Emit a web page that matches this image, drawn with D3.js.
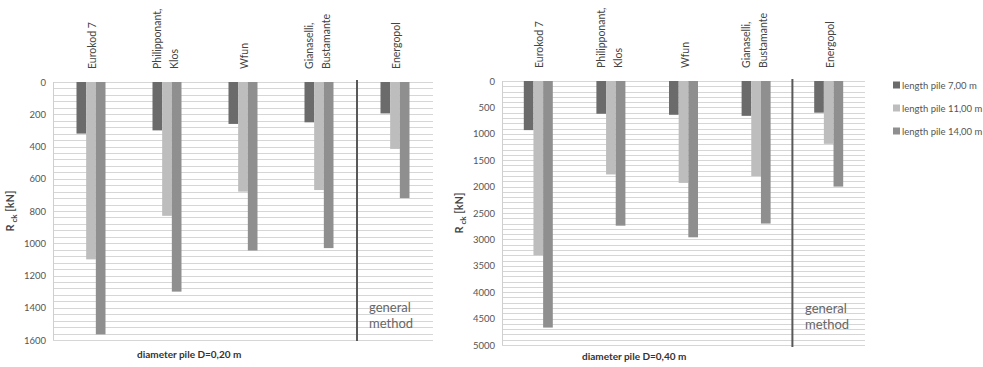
<!DOCTYPE html>
<html><head><meta charset="utf-8">
<script src="https://cdn.jsdelivr.net/npm/d3@7"></script>
<style>body{margin:0;background:#fff;} svg{display:block;font-family:Lato,"Open Sans",sans-serif;}</style>
</head><body>
<svg id="c" width="983" height="367"></svg>
<script>
const categories = [["Eurokod 7"],["Philipponant,","Klos"],["Wfun"],["Gianaselli,","Bustamante"],["Energopol"]];
const seriesNames = ["length pile 7,00 m","length pile 11,00 m","length pile 14,00 m"];
const colors = ["#6b6b6b","#bdbdbd","#8f8f8f"];
// D = 0,20 m
const d20_7 = [320, 300, 260, 250, 195];
const d20_11 = [1100, 830, 680, 670, 415];
const d20_14 = [1565, 1300, 1045, 1030, 720];
const ticks20 = [0,200,400,600,800,1000,1200,1400,1600];
// D = 0,40 m
const d40_7 = [930, 620, 640, 660, 600];
const d40_11 = [3300, 1770, 1930, 1800, 1190];
const d40_14 = [4670, 2740, 2960, 2700, 2000];
const ticks40 = [0,500,1000,1500,2000,2500,3000,3500,4000,4500,5000];

const svg = d3.select("#c");

function chart(cfg){
  const {x0,x1,y0,y1,max,ticks,minor,series,caption,capX,capY,titleX,divBottom,genX,genY} = cfg;
  const g = svg.append("g");
  const y = d3.scaleLinear().domain([0,max]).range([y0,y1]);
  const x = d3.scaleBand().domain(d3.range(categories.length)).range([x0,x1]).paddingInner(0).paddingOuter(0);
  const groupW = 29;
  const xs = d3.scaleBand().domain([0,1,2]).range([0,groupW]);
  g.append("g").selectAll("line").data(d3.range(0,max+1,minor)).join("line")
    .attr("x1",x0).attr("x2",x1).attr("y1",d=>Math.round(y(d))+0.5).attr("y2",d=>Math.round(y(d))+0.5)
    .attr("stroke","#d6d6d6").attr("stroke-width",1);
  g.append("line").attr("x1",x0+0.5).attr("x2",x0+0.5).attr("y1",y0).attr("y2",y1)
    .attr("stroke","#cfcfcf");
  const ax = d3.axisLeft(y).tickValues(ticks).tickSize(0).tickPadding(7).tickFormat(d3.format("d"));
  const axg = g.append("g").attr("transform",`translate(${x0},0)`).call(ax);
  axg.select(".domain").remove();
  axg.selectAll("text").attr("fill","#555").style("font-size","9.5px").style("font-family","Lato,sans-serif");
  series.forEach((vals,si)=>{
    g.append("g").selectAll("rect").data(vals).join("rect")
      .attr("x",(d,i)=>x(i)+x.bandwidth()/2-groupW/2+xs(si))
      .attr("y",y(0)).attr("width",xs.bandwidth()).attr("height",d=>y(d)-y(0))
      .attr("fill",colors[si]);
  });
  categories.forEach((lines,i)=>{
    const cx = x(i)+x.bandwidth()/2;
    lines.forEach((t,li)=>{
      const off = lines.length===1 ? 5 : (li===0 ? -6 : 11);
      g.append("text").attr("transform",`translate(${cx+off},${y0-13}) rotate(-90)`)
        .attr("text-anchor","start").attr("fill","#444").style("font-size","10.5px").text(t);
    });
  });
  const dx = x(4);
  g.append("line").attr("x1",dx).attr("x2",dx).attr("y1",y0-2).attr("y2",divBottom)
    .attr("stroke","#595959").attr("stroke-width",2);
  const gt = g.append("text").attr("fill","#666").style("font-size","13px");
  gt.append("tspan").attr("x",genX).attr("y",genY).text("general");
  gt.append("tspan").attr("x",genX).attr("y",genY+16).text("method");
  const tt = g.append("text").attr("transform",`translate(${titleX},${(y0+y1)/2}) rotate(-90)`)
    .attr("text-anchor","middle").attr("fill","#444").style("font-size","11px").style("font-weight","bold");
  tt.append("tspan").text("R");
  tt.append("tspan").attr("dy",3).style("font-size","8px").text(" ck");
  tt.append("tspan").attr("dy",-3).text(" [kN]");
  g.append("text").attr("x",capX).attr("y",capY).attr("fill","#333")
    .style("font-size","10px").style("font-weight","bold").text(caption);
}

chart({x0:53,x1:433,y0:82,y1:340,max:1600,ticks:ticks20,minor:40,
  series:[d20_7,d20_11,d20_14],caption:"diameter pile D=0,20 m",capX:137,capY:358,
  titleX:14,divBottom:341,genX:369,genY:312});
chart({x0:502,x1:865,y0:81,y1:345,max:5000,ticks:ticks40,minor:100,
  series:[d40_7,d40_11,d40_14],caption:"diameter pile D=0,40 m",capX:582,capY:360,
  titleX:463,divBottom:347,genX:805,genY:313});

const lg = svg.append("g");
seriesNames.forEach((n,i)=>{
  const yy = 85 + i*23;
  lg.append("rect").attr("x",893).attr("y",yy-3.5).attr("width",7).attr("height",7).attr("fill",colors[i]);
  lg.append("text").attr("x",902).attr("y",yy+3.5).attr("fill","#555").style("font-size","9.5px").text(n);
});
</script>
</body></html>
